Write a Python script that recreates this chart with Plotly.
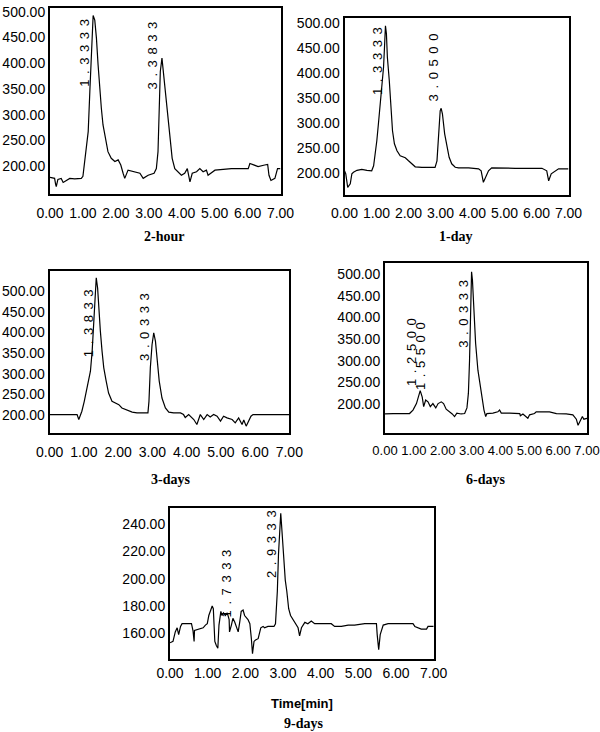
import plotly.graph_objects as go

# ---------------- data (time in min, detector response) ----------------
t_2h = [0, 0.05, 0.14, 0.17, 0.19, 0.24, 0.34, 0.40, 0.50, 0.60, 0.75, 0.95, 1.00, 1.03, 1.10, 1.16, 1.21, 1.24, 1.28, 1.31,
        1.36, 1.41, 1.46, 1.51, 1.56, 1.61, 1.68, 1.76, 1.86, 1.97, 2.07, 2.15, 2.22, 2.27, 2.37, 2.52, 2.73, 2.83, 2.98, 3.16,
        3.23, 3.28, 3.31, 3.35, 3.40, 3.44, 3.51, 3.57, 3.64, 3.71, 3.79, 3.89, 3.99, 4.09, 4.17, 4.25, 4.32, 4.45, 4.55, 4.65,
        4.75, 4.80, 4.90, 5.01, 5.51, 6.02, 6.07, 6.17, 6.32, 6.52, 6.61, 6.65, 6.71, 6.83, 6.91, 7.0]
y_2h = [178, 177, 176, 165, 160, 174, 176, 168, 172, 176, 175, 176, 180, 195, 228, 267, 345, 384, 449, 493,
        484, 449, 397, 351, 312, 280, 254, 228, 215, 209, 212, 202, 186, 176, 192, 189, 186, 176, 182, 186,
        195, 228, 319, 384, 410, 384, 345, 306, 254, 215, 195, 189, 182, 186, 195, 169, 186, 189, 195, 189,
        192, 182, 186, 192, 195, 195, 205, 202, 199, 202, 203, 182, 172, 176, 195, 195]

t_1d = [0, 0.04, 0.10, 0.18, 0.23, 0.28, 0.39, 0.54, 0.70, 0.85, 0.91, 0.96, 1.01, 1.06, 1.11, 1.17, 1.22, 1.25, 1.28, 1.31,
        1.34, 1.40, 1.45, 1.50, 1.56, 1.64, 1.74, 1.90, 2.00, 2.10, 2.21, 2.42, 2.83, 2.89, 2.94, 2.99, 3.02, 3.06, 3.13, 3.20,
        3.27, 3.35, 3.46, 3.56, 3.88, 4.19, 4.27, 4.34, 4.40, 4.45, 4.50, 4.60, 4.92, 5.33, 5.75, 6.17, 6.32, 6.38, 6.46, 6.58,
        6.69, 7.0]
y_1d = [205, 199, 172, 179, 199, 202, 206, 208, 206, 205, 215, 239, 265, 299, 332, 372, 412, 452, 495, 479,
        432, 385, 332, 285, 259, 245, 235, 231, 225, 219, 213, 212, 212, 225, 285, 325, 330, 319, 279, 252,
        232, 219, 212, 211, 211, 209, 205, 182, 192, 199, 205, 211, 210, 210, 210, 210, 205, 185, 199, 205,
        209, 209]

t_3d = [0, 0.12, 0.80, 0.85, 0.90, 0.94, 1.01, 1.07, 1.14, 1.19, 1.24, 1.29, 1.33, 1.36, 1.40, 1.43, 1.48, 1.53, 1.58, 1.65,
        1.72, 1.82, 1.92, 2.02, 2.11, 2.26, 2.41, 2.55, 2.75, 2.87, 2.90, 2.94, 2.99, 3.04, 3.09, 3.14, 3.20, 3.28, 3.38, 3.48,
        3.62, 3.82, 3.91, 3.96, 4.06, 4.21, 4.30, 4.40, 4.50, 4.60, 4.69, 4.79, 4.89, 4.99, 5.08, 5.18, 5.33, 5.42, 5.52, 5.62,
        5.67, 5.74, 5.81, 5.88, 5.94, 7.0]
y_3d = [201, 201, 201, 189, 201, 209, 233, 257, 282, 306, 354, 435, 507, 532, 507, 459, 403, 354, 314, 282,
        253, 233, 229, 225, 217, 211, 207, 205, 205, 205, 233, 314, 370, 399, 378, 330, 282, 241, 217, 207,
        205, 205, 201, 194, 201, 189, 177, 201, 189, 201, 195, 201, 197, 185, 197, 193, 189, 181, 193, 177,
        188, 173, 185, 197, 201, 201]

t_6d = [0, 0.28, 0.85, 0.97, 1.09, 1.17, 1.22, 1.29, 1.34, 1.41, 1.49, 1.57, 1.66, 1.76, 1.84, 1.95, 2.03, 2.12, 2.24, 2.33,
        2.41, 2.49, 2.64, 2.76, 2.84, 2.89, 2.93, 2.96, 2.98, 3.00, 3.03, 3.07, 3.14, 3.22, 3.30, 3.37, 3.43, 3.49, 3.53, 3.74,
        3.91, 3.97, 4.03, 4.32, 4.67, 4.69, 4.78, 4.95, 5.01, 5.18, 5.24, 5.70, 5.94, 6.28, 6.51, 6.63, 6.69, 6.75, 6.84, 6.89,
        7.0]
y_6d = [177, 178, 178, 186, 201, 221, 231, 216, 194, 209, 205, 194, 201, 191, 201, 205, 201, 188, 182, 177,
        171, 179, 177, 178, 191, 225, 301, 394, 471, 505, 486, 417, 340, 278, 240, 209, 186, 171, 178, 179,
        182, 186, 179, 179, 178, 173, 177, 167, 175, 178, 182, 182, 178, 177, 175, 165, 151, 159, 171, 165,
        167]

t_9d = [0, 0.08, 0.14, 0.19, 0.23, 0.28, 0.32, 0.57, 0.61, 0.64, 0.65, 0.74, 0.88, 0.94, 0.99, 1.03, 1.08, 1.12, 1.15, 1.19,
        1.23, 1.27, 1.30, 1.35, 1.38, 1.42, 1.47, 1.52, 1.57, 1.58, 1.63, 1.67, 1.72, 1.76, 1.81, 1.85, 1.89, 1.94, 1.98, 2.07,
        2.12, 2.16, 2.19, 2.23, 2.27, 2.34, 2.41, 2.47, 2.51, 2.60, 2.76, 2.80, 2.82, 2.85, 2.88, 2.91, 2.94, 2.96, 3.00, 3.03,
        3.06, 3.10, 3.15, 3.20, 3.27, 3.34, 3.40, 3.44, 3.49, 3.58, 3.66, 3.75, 3.84, 4.02, 4.28, 4.37, 4.55, 4.73, 4.90, 5.17,
        5.26, 5.48, 5.50, 5.54, 5.58, 5.66, 5.79, 6.14, 6.45, 6.50, 6.67, 6.81, 6.85, 7.0]
y_9d = [153, 154, 161, 164, 159, 165, 167, 167, 162, 154, 162, 163, 164, 166, 167, 173, 178, 180, 178, 154,
        151, 149, 166, 176, 173, 175, 173, 175, 170, 161, 166, 171, 168, 165, 161, 168, 176, 177, 173, 170,
        167, 156, 145, 154, 155, 156, 164, 165, 164, 165, 165, 167, 176, 191, 218, 240, 248, 240, 220, 205,
        199, 191, 178, 173, 170, 167, 164, 158, 164, 168, 167, 169, 167, 167, 167, 165, 165, 166, 166, 167,
        167, 167, 159, 148, 159, 166, 167, 167, 167, 165, 163, 163, 165, 165]

# peak retention-time labels and the response level where each label starts
peaks_2h = ["1.3333", "3.3833"]
peak_lvl_2h = [351, 345]
peaks_1d = ["1.3333", "3.0500"]
peak_lvl_1d = [352, 339]
peaks_3d = ["1.3833", "3.0333"]
peak_lvl_3d = [334, 326]
peaks_6d = ["1.2500", "1.5500", "3.0333"]
peak_lvl_6d = [236, 228, 325]
peaks_9d = ["1.7333", "2.9333"]
peak_lvl_9d = [170, 199]

panel_titles = ["2-hour", "1-day", "3-days", "6-days", "9-days"]
x_ticks = [0, 1, 2, 3, 4, 5, 6, 7]
y_ticks_main = [200, 250, 300, 350, 400, 450, 500]
y_ticks_9d = [160, 180, 200, 220, 240]

# ---------------- layout geometry (pixels) ----------------
W, H = 600, 732


def px_x(p):
    return p / W


def px_y(p):
    return 1 - p / H


panels = [
    dict(t=t_2h, y=y_2h, peaks=peaks_2h, lvl=peak_lvl_2h, box=(50, 280.5, 8.3, 194.3), yr=(145, 507),
         yt=y_ticks_main, title=panel_titles[0], tpos=(164, 237), xfs=14, xso=5),
    dict(t=t_1d, y=y_1d, peaks=peaks_1d, lvl=peak_lvl_1d, box=(344.5, 568.5, 18, 195), yr=(156.6, 510.6),
         yt=y_ticks_main, title=panel_titles[1], tpos=(455, 237), xfs=14, xso=4),
    dict(t=t_3d, y=y_3d, peaks=peaks_3d, lvl=peak_lvl_3d, box=(49.7, 289.3, 271.3, 433), yr=(156.4, 547.7),
         yt=y_ticks_main, title=panel_titles[2], tpos=(170, 480), xfs=14, xso=5),
    dict(t=t_6d, y=y_6d, peaks=peaks_6d, lvl=peak_lvl_6d, box=(385, 587, 262.7, 432.7), yr=(133.8, 526),
         yt=y_ticks_main, title=panel_titles[3], tpos=(485, 479), xfs=13, xso=5),
    dict(t=t_9d, y=y_9d, peaks=peaks_9d, lvl=peak_lvl_9d, box=(170, 433.7, 508.3, 659), yr=(141.1, 251.7),
         yt=y_ticks_9d, title=panel_titles[4], tpos=(303, 723), xfs=14, xso=0),
]

TICK_FONT = "Liberation Sans, Arial, sans-serif"
fig = go.Figure()
annotations = []
layout_axes = {}

for i, p in enumerate(panels, start=1):
    xa = "x" if i == 1 else f"x{i}"
    ya = "y" if i == 1 else f"y{i}"
    xkey = "xaxis" if i == 1 else f"xaxis{i}"
    ykey = "yaxis" if i == 1 else f"yaxis{i}"
    l, r, top, bot = p["box"]
    fig.add_trace(go.Scatter(x=p["t"], y=p["y"], mode="lines", xaxis=xa, yaxis=ya,
                             line=dict(color="black", width=1.2), showlegend=False,
                             hoverinfo="skip"))
    layout_axes[xkey] = dict(domain=[px_x(l), px_x(r)], anchor=ya, range=[0, 7], automargin=False,
                             tickvals=x_ticks, tickformat=".2f", showgrid=False, zeroline=False,
                             showline=True, mirror=True, linecolor="black", linewidth=2,
                             ticks="", ticklabelstandoff=p["xso"], tickangle=0,
                             tickfont=dict(family=TICK_FONT, size=p["xfs"], color="black"))
    layout_axes[ykey] = dict(domain=[px_y(bot), px_y(top)], anchor=xa, range=list(p["yr"]), automargin=False,
                             tickvals=p["yt"], tickformat=".2f", showgrid=False, zeroline=False,
                             showline=True, mirror=True, linecolor="black", linewidth=2,
                             ticks="", ticklabelstandoff=0,
                             tickfont=dict(family=TICK_FONT, size=14, color="black"))
    for lab, lv in zip(p["peaks"], p["lvl"]):
        annotations.append(dict(x=float(lab), y=lv, xref=xa, yref=ya, xanchor="center", yanchor="bottom",
                                xshift=-9, textangle=-90, showarrow=False,
                                text=f'<span style="letter-spacing:5.6px">{lab}</span>',
                                font=dict(family="Liberation Sans, Arial, sans-serif", size=13, color="black")))
    annotations.append(dict(x=px_x(p["tpos"][0]), y=px_y(p["tpos"][1]), xref="paper", yref="paper",
                            xanchor="center", yanchor="middle", showarrow=False, text=p["title"],
                            font=dict(family="Liberation Serif, Times New Roman, serif", size=14,
                                      color="black", weight="bold")))

# x-axis title of the bottom panel
annotations.append(dict(x=px_x(302), y=px_y(703), xref="paper", yref="paper", xanchor="center",
                        yanchor="middle", showarrow=False, text="Time[min]",
                        font=dict(family=TICK_FONT, size=13, color="black", weight="bold")))

fig.update_layout(width=W, height=H, margin=dict(l=0, r=0, t=0, b=0, autoexpand=False),
                  paper_bgcolor="white", plot_bgcolor="white",
                  annotations=annotations, **layout_axes)

fig.write_html("out.html", config={"displayModeBar": False},
               post_script="document.body.style.margin='0px';")
